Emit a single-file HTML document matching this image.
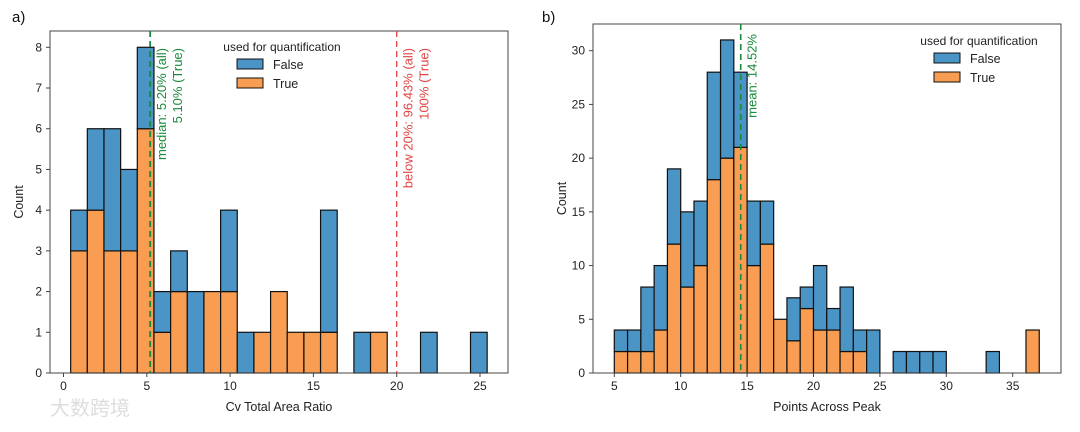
<!DOCTYPE html>
<html><head><meta charset="utf-8"><style>
body{margin:0;background:#fff;width:1080px;height:427px;overflow:hidden}
svg{font-family:"Liberation Sans",sans-serif}
</style></head><body>
<svg id="svg" width="1080" height="427" viewBox="0 0 1080 427">
<text x="12" y="22" font-size="15" fill="#111">a)</text>
<text x="542" y="22" font-size="15" fill="#111">b)</text>
<text x="50" y="415" font-size="20" fill="#ddd" font-family="'Liberation Sans','Noto Sans CJK SC',sans-serif">大数跨境</text>
</svg>
<script>
// Panel a data
const aStart = 0.43;
const aBinWidth = 1.0;
const aTotal = [4,6,6,5,8,2,3,2,2,4,1,1,2,1,1,4,0,1,1,0,0,1,0,0,1];
const aTrue  = [3,4,3,3,6,1,2,0,2,2,0,1,2,1,1,1,0,0,1,0,0,0,0,0,0];
const aXTicks = [0,5,10,15,20,25];
const aYTicks = [0,1,2,3,4,5,6,7,8];
// Panel b data
const bStart = 5;
const bBinWidth = 1;
const bTotal = [4,4,8,10,19,15,16,28,31,28,16,16,5,7,8,10,6,8,4,4,0,2,2,2,2,0,0,0,2,0,0,4];
const bTrue  = [2,2,2,4,12,8,10,18,20,21,10,12,5,3,6,4,4,2,2,0,0,0,0,0,0,0,0,0,0,0,0,4];
const bXTicks = [5,10,15,20,25,30,35];
const bYTicks = [0,5,10,15,20,25,30];

const NS="http://www.w3.org/2000/svg";
const svg=document.getElementById('svg');
function mk(tag,attrs,parent){const e=document.createElementNS(NS,tag);for(const k in attrs)e.setAttribute(k,attrs[k]);(parent||svg).appendChild(e);return e;}

function panel(cfg){
  const g=mk('g',{});
  
  
  const X=v=>cfg.x0+(v-cfg.xv0)*(cfg.x1-cfg.x0)/(cfg.xv1-cfg.xv0);
  const Y=v=>cfg.y0-(v)*(cfg.y0-cfg.y1)/cfg.yv1;
  for(let i=0;i<cfg.total.length;i++){
    const l=X(cfg.start+i*cfg.bw), r=X(cfg.start+(i+1)*cfg.bw);
    const t=cfg.tr[i], f=cfg.total[i]-t;
    if(t>0){const b=mk('rect',{x:l,y:Y(t),width:r-l,height:Y(0)-Y(t),fill:'#f89d51',stroke:'#111','stroke-width':1.2},g);
      
      }
    if(f>0){const b=mk('rect',{x:l,y:Y(t+f),width:r-l,height:Y(t)-Y(t+f),fill:'#4b94c6',stroke:'#111','stroke-width':1.2},g);
      
      }
  }
  const fr=mk('rect',{x:cfg.fl,y:cfg.ft,width:cfg.fr-cfg.fl,height:cfg.y0-cfg.ft,fill:'none',stroke:'#444','stroke-width':1},g);
  
  
  cfg.xt.forEach(v=>{
    mk('line',{x1:X(v),x2:X(v),y1:cfg.y0,y2:cfg.y0+4,stroke:'#444'},g);
    const t=mk('text',{x:X(v),y:cfg.y0+17,'font-size':12,'text-anchor':'middle',fill:'#222'},g);t.textContent=v;
    
    
  });
  cfg.yt.forEach(v=>{
    mk('line',{x1:cfg.fl-4,x2:cfg.fl,y1:Y(v),y2:Y(v),stroke:'#444'},g);
    const t=mk('text',{x:cfg.fl-8,y:Y(v)+4,'font-size':12,'text-anchor':'end',fill:'#222'},g);t.textContent=v;
    
    
  });
  const xl=mk('text',{x:(cfg.fl+cfg.fr)/2,y:cfg.y0+38,'font-size':12.5,'text-anchor':'middle',fill:'#222'},g);xl.textContent=cfg.xlabel;
  
  
  const yl=mk('text',{x:0,y:0,'font-size':12.5,'text-anchor':'middle',fill:'#222',transform:`translate(${cfg.fl-27},${(cfg.ft+cfg.y0)/2}) rotate(-90)`},g);yl.textContent='Count';
  
  
  cfg.lines.forEach(L=>{
    const ln=mk('line',{x1:X(L.v),x2:X(L.v),y1:cfg.ft,y2:cfg.y0,stroke:L.c,'stroke-width':L.w,'stroke-dasharray':'6,4'},g);
    
    
    L.txt.forEach((s,k)=>{
      const t=mk('text',{x:0,y:0,'font-size':13,fill:L.c,'text-anchor':'end',transform:`translate(${X(L.v)+16+k*16},${L.ty}) rotate(-90)`},g);t.textContent=s;
      
      
    });
  });
  const lg=mk('g',{},g);
  
  
  const tt=mk('text',{x:cfg.lx,y:cfg.ly,'font-size':12,'text-anchor':'middle',fill:'#222'},lg);tt.textContent='used for quantification';
  [['False','#4b94c6'],['True','#f89d51']].forEach((p,k)=>{
    const y=cfg.ly+8+k*19;
    const r=mk('rect',{x:cfg.lx-45,y:y,width:26,height:10,fill:p[1],stroke:'#111'},lg);
    
    
    const t=mk('text',{x:cfg.lx-9,y:y+10,'font-size':12.5,fill:'#222'},lg);t.textContent=p[0];
    
    
  });
}
panel({id:'panel-a',x0:63.5,x1:480,xv0:0,xv1:25,y0:373,y1:47.3,yv1:8,fl:50,fr:508,ft:31,
  start:aStart,bw:aBinWidth,total:aTotal,tr:aTrue,xt:aXTicks,yt:aYTicks,xlabel:'Cv Total Area Ratio',
  lx:282,ly:51,
  lines:[{v:5.2,c:'#1a8a3c',w:1.8,name:'median-line',txt:['median: 5.20% (all)','5.10% (True)'],ty:48},
         {v:20,c:'#e04444',w:1.3,name:'threshold-line',txt:['below 20%: 96.43% (all)','100% (True)'],ty:48}]});
panel({id:'panel-b',x0:614.3,x1:1012.7,xv0:5,xv1:35,y0:373,y1:50.7,yv1:30,fl:593,fr:1061,ft:24,
  start:bStart,bw:bBinWidth,total:bTotal,tr:bTrue,xt:bXTicks,yt:bYTicks,xlabel:'Points Across Peak',
  lx:979,ly:45,
  lines:[{v:14.52,c:'#1a8a3c',w:1.6,name:'mean-line',txt:['mean: 14.52%'],ty:34}]});
</script>
</body></html>
